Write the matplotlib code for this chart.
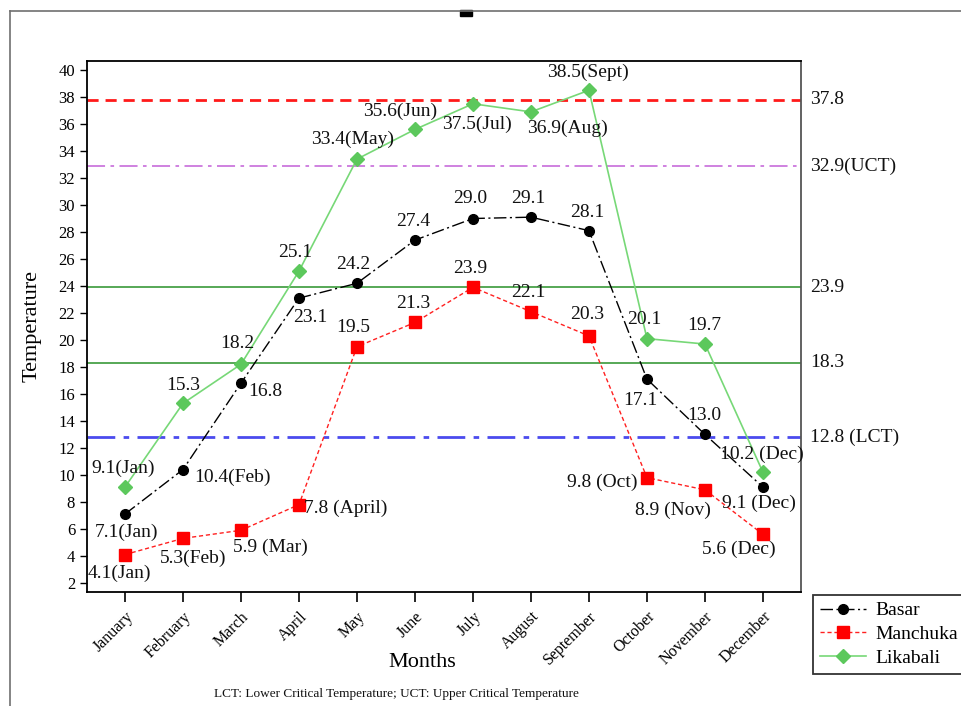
import matplotlib
matplotlib.use("Agg")
import matplotlib.pyplot as plt
from matplotlib.lines import Line2D
from matplotlib.patches import Rectangle
import numpy as np

plt.rcParams['font.family'] = ['Liberation Serif', 'DejaVu Serif']

# data
months = ["January", "February", "March", "April", "May", "June", "July",
          "August", "September", "October", "November", "December"]
basar = [7.1, 10.4, 16.8, 23.1, 24.2, 27.4, 29.0, 29.1, 28.1, 17.1, 13.0, 9.1]
manchuka = [4.1, 5.3, 5.9, 7.8, 19.5, 21.3, 23.9, 22.1, 20.3, 9.8, 8.9, 5.6]
likabali = [9.1, 15.3, 18.2, 25.1, 33.4, 35.6, 37.5, 36.9, 38.5, 20.1, 19.7, 10.2]

basar_lbl = ["7.1(Jan)", "10.4(Feb)", "16.8", "23.1", "24.2", "27.4", "29.0",
             "29.1", "28.1", "17.1", "13.0", "9.1 (Dec)"]
manchuka_lbl = ["4.1(Jan)", "5.3(Feb)", "5.9 (Mar)", "7.8 (April)", "19.5", "21.3",
                "23.9", "22.1", "20.3", "9.8 (Oct)", "8.9 (Nov)", "5.6 (Dec)"]
likabali_lbl = ["9.1(Jan)", "15.3", "18.2", "25.1", "33.4(May)", "35.6(Jun)",
                "37.5(Jul)", "36.9(Aug)", "38.5(Sept)", "20.1", "19.7", "10.2 (Dec)"]

# reference lines
ref_vals = [37.8, 32.9, 23.9, 18.3, 12.8]
ref_lbl = ["37.8", "32.9(UCT)", "23.9", "18.3", "12.8 (LCT)"]

# label offsets in pixels (dx, dy)
basar_off = [(2, -18), (50, -8), (24, -8), (11, -19), (-4, 19), (-2, 19), (-3, 20),
             (-3, 19), (-2, 18), (-7, -21), (-1, 19), (-4, -16)]
manchuka_off = [(-6, -19), (10, -20), (29, -17), (47, -4), (-4, 19), (-2, 19), (-3, 19),
                (-3, 19), (-2, 21), (-45, -5), (-32, -21), (-24, -15)]
likabali_off = [(-2, 19), (0, 18), (-4, 21), (-4, 19), (-4, 20), (-15, 18), (4, -21),
                (36, -16), (-1, 18), (-3, 19), (-1, 19), (-1, 18)]

x = np.arange(len(months))

fig = plt.figure(figsize=(9.62, 7.06), dpi=100)
ax = fig.add_axes([0.0904, 0.1615, 0.7422, 0.7521])

# outer frame + stray mark at top
fig.add_artist(Line2D([10/962, 1.0], [1 - 11/706, 1 - 11/706], transform=fig.transFigure,
                      color="#707070", lw=1.2))
fig.add_artist(Line2D([10/962, 10/962], [0, 1 - 11/706], transform=fig.transFigure,
                      color="#707070", lw=1.2))
fig.add_artist(Rectangle((460/962, 1 - 16/706), 12/962, 6/706, transform=fig.transFigure,
                         color="black"))

# horizontal reference lines
ax.axhline(ref_vals[0], color="#ff1a1a", lw=2, ls=(0, (4, 2.5)))
ax.axhline(ref_vals[1], color="#cc77dd", lw=1.3, ls=(0, (10, 3, 2, 3)))
ax.axhline(ref_vals[2], color="#3a9a3a", lw=1.2)
ax.axhline(ref_vals[3], color="#3a9a3a", lw=1.2)
ax.axhline(ref_vals[4], color="#4b4bee", lw=2, ls=(0, (10, 3, 2, 3)))

for v, t in zip(ref_vals, ref_lbl):
    ax.text(1.013, v, t, transform=ax.get_yaxis_transform(), ha="left", va="center",
            fontsize=14, color="#111111", clip_on=False)

basar_ls = (0, (9, 2.5, 1.5, 2.5))
manchuka_ls = (0, (3, 2))

# series
ax.plot(x, likabali, color="#77d877", lw=1.2, marker="D", ms=7, mfc="#5cc85c",
        mec="#5cc85c", label="Likabali", zorder=3)
ax.plot(x, manchuka, color="#ff2020", lw=1, ls=manchuka_ls, marker="s", ms=8,
        mfc="#ff0000", mec="#ff0000", label="Manchuka", zorder=3)
ax.plot(x, basar, color="black", lw=1, ls=basar_ls, marker="o", ms=7,
        mfc="black", mec="black", label="Basar", zorder=4)

# point labels
for vals, lbls, offs in [(basar, basar_lbl, basar_off),
                         (manchuka, manchuka_lbl, manchuka_off),
                         (likabali, likabali_lbl, likabali_off)]:
    for i in range(len(vals)):
        ax.annotate(lbls[i], (x[i], vals[i]), xytext=offs[i], textcoords="offset pixels",
                    ha="center", va="center", fontsize=14, color="#111111", zorder=5)

ax.set_xlim(-0.655, 11.655)
ax.set_ylim(1.33, 40.67)
ax.set_yticks(np.arange(2, 41, 2))
ax.tick_params(axis="y", labelsize=12, length=5, width=1)
ax.set_xticks(x)
ax.set_xticklabels(months, rotation=45, ha="right", rotation_mode="anchor", fontsize=11.5)
ax.tick_params(axis="x", length=7, width=1.2, pad=5)
for s in ax.spines.values():
    s.set_linewidth(1.3)
ax.spines["right"].set_color("#555555")

ax.set_ylabel("Temperature", fontsize=16)
ax.yaxis.set_label_coords(-0.064, 0.5)
ax.set_xlabel("Months", fontsize=16, labelpad=0)
ax.xaxis.set_label_coords(0.47, -0.115)

# legend
handles = [Line2D([], [], color="black", lw=1, ls=basar_ls, marker="o", ms=7),
           Line2D([], [], color="#ff2020", lw=1, ls=manchuka_ls, marker="s", ms=8, mfc="#ff0000", mec="#ff0000"),
           Line2D([], [], color="#77d877", lw=1.2, marker="D", ms=7, mfc="#5cc85c", mec="#5cc85c")]
leg = fig.legend(handles, ["Basar", "Manchuka", "Likabali"], loc="upper left",
                 bbox_to_anchor=(813/962, 1 - 595/706), fontsize=14, fancybox=False,
                 edgecolor="#333333", framealpha=1, borderpad=0.35, handlelength=2.4,
                 labelspacing=0.32, handletextpad=0.45, borderaxespad=0)
leg.get_frame().set_linewidth(1.3)

fig.text(396/962, 1 - 694/706, "LCT: Lower Critical Temperature; UCT: Upper Critical Temperature",
         ha="center", va="center", fontsize=9.5, color="#111111")

fig.savefig("out.png", dpi=100)
